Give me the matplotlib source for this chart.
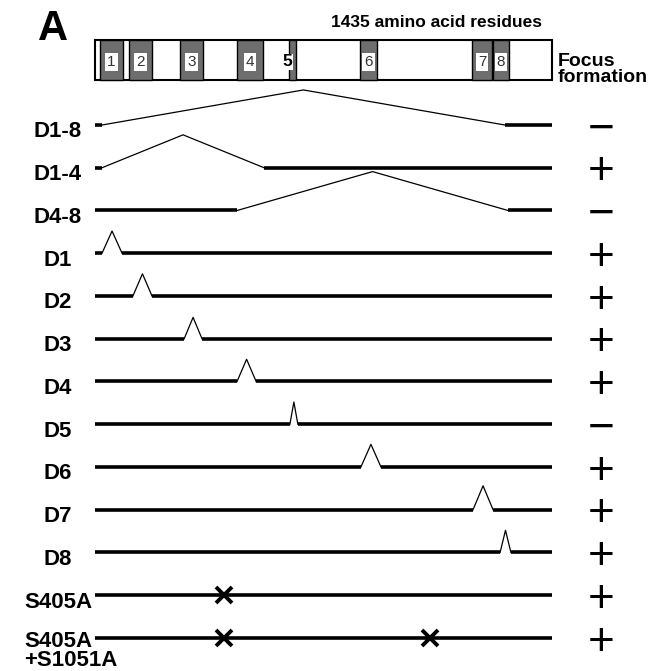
import numpy as np
import matplotlib.pyplot as plt
from matplotlib.patches import Rectangle

plt.rcParams['font.family'] = ['Liberation Sans', 'DejaVu Sans']

# Proteina completa (residuos) y dominios
length = 1435
dom_names = ['1', '2', '3', '4', '5', '6', '7', '8']
dom_start = [16, 107, 267, 446, 609, 832, 1184, 1250]
dom_end = [88, 179, 339, 528, 631, 885, 1247, 1300]

# Construcciones: deleciones (inicio, fin) y mutaciones puntuales
rows = ['D1-8', 'D1-4', 'D4-8', 'D1', 'D2', 'D3', 'D4', 'D5', 'D6', 'D7', 'D8',
        'S405A', 'S405A\n+S1051A']
del_start = [22, 22, 446, 22, 119, 280, 446, 612, 835, 1187, 1272, None, None]
del_end = [1287, 531, 1297, 85, 179, 336, 506, 637, 898, 1250, 1306, None, None]
peak_h = [0.82, 0.77, 0.91, 0.52, 0.52, 0.50, 0.52, 0.52, 0.53, 0.56, 0.52, 0, 0]
mut_sites = [[], [], [], [], [], [], [], [], [], [], [], [405], [405, 1051]]
focus = ['\u2212', '+', '\u2212', '+', '+', '+', '+', '\u2212', '+', '+', '+', '+', '+']

title = '1435 amino acid residues'
focus_title = ['Focus', 'formation']

# Figura
fig = plt.figure(figsize=(6.66, 6.71), dpi=100)
ax = fig.add_axes([0, 0, 1, 1])
ax.set_xlim(-298.3, 1793.0)
ax.set_ylim(12.772, -2.924)
ax.axis('off')

# Barra de la proteina
bar_top, bar_bot = -1.988, -1.053
ax.add_patch(Rectangle((0, bar_top), length, bar_bot - bar_top,
                       fc='white', ec='black', lw=1.5, zorder=2))
for name, s, e in zip(dom_names, dom_start, dom_end):
    ax.add_patch(Rectangle((s, bar_top), e - s, bar_bot - bar_top,
                           fc='#6e6e6e', ec='black', lw=1.0, zorder=3))
    ymid = -1.474
    if name == '5':
        ax.text(s - 4, ymid, name, ha='center', va='center', fontsize=12.5,
                fontweight='bold', color='black', zorder=5,
                bbox=dict(boxstyle='square,pad=0.04', fc='white', ec='none'))
    else:
        ax.text((s + e) / 2, ymid, name, ha='center', va='center', fontsize=11,
                color='#333333', zorder=5,
                bbox=dict(boxstyle='square,pad=0.14', fc='white', ec='none'))

ax.text(-179, bar_top, 'A', ha='left', va='baseline', fontsize=30, fontweight='bold')
ax.text(1071, -2.29, title, ha='center', va='baseline', fontsize=12.5, fontweight='bold')
ax.text(1454, -1.38, focus_title[0], ha='left', va='baseline', fontsize=14, fontweight='bold')
ax.text(1454, -1.006, focus_title[1], ha='left', va='baseline', fontsize=14, fontweight='bold')

# Construcciones
for i, name in enumerate(rows):
    s, e = del_start[i], del_end[i]
    if s is None:
        ax.plot([0, length], [i, i], color='black', lw=2.6, solid_capstyle='butt')
    else:
        ax.plot([0, s], [i, i], color='black', lw=2.6, solid_capstyle='butt')
        ax.plot([s, (s + e) / 2, e], [i, i - peak_h[i], i], color='black', lw=0.9)
        ax.plot([e, length], [i, i], color='black', lw=2.6, solid_capstyle='butt')
    for m in mut_sites[i]:
        ax.plot(m, i, marker='x', color='black', markersize=11.5, mew=2.8, zorder=4)

    lines = name.split('\n')
    if len(lines) == 1:
        ax.text(-116, i + 0.29, name, ha='center', va='baseline',
                fontsize=16, fontweight='bold')
    else:
        for k, ln in enumerate(lines):
            ax.text(-223, i + 0.21 + 0.445 * k, ln, ha='left', va='baseline',
                    fontsize=16, fontweight='bold')

    ax.text(1589, i + 0.39, focus[i], ha='center', va='baseline', fontsize=33)

plt.savefig('out.png', dpi=100)
